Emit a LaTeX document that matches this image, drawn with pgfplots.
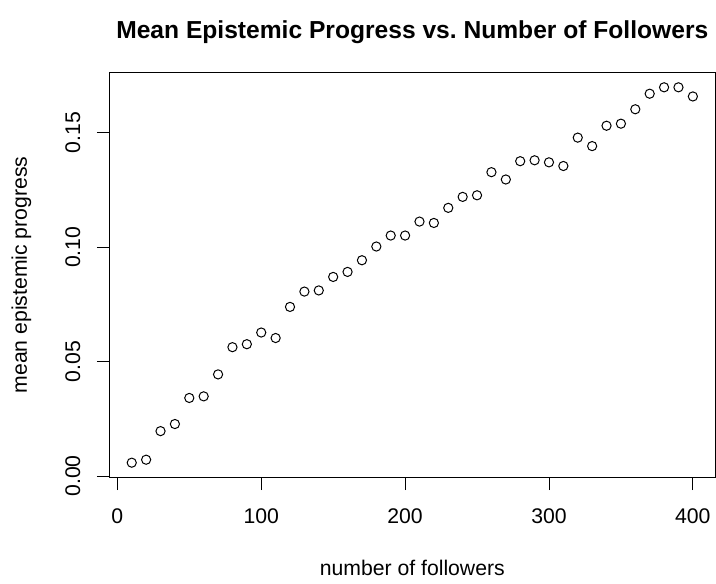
\documentclass[border=0pt]{standalone}
\usepackage{pgfplots}
\pgfplotsset{compat=1.18}
\usepackage{fontspec}
\setmainfont{Liberation Sans}

\begin{document}
\begin{tikzpicture}
\useasboundingbox (-109.3pt,-106.3pt) rectangle (606.7pt,477.7pt);
\begin{axis}[
  at={(0pt,0pt)}, anchor=south west,
  scale only axis,
  width=606pt, height=405.4pt,
  xmin=-5.6, xmax=415.6,
  ymin=-0.00076, ymax=0.17646,
  axis line style={line width=0.9pt},
  xtick={0,100,...,400},
  ytick={0,0.05,0.10,0.15},
  xtick pos=bottom, ytick pos=left,
  tick align=outside,
  major tick length=12.5pt,
  every tick/.style={line width=0.9pt, black},
  /pgf/number format/assume math mode=true,
  yticklabel style={/pgf/number format/fixed, /pgf/number format/fixed zerofill, /pgf/number format/precision=2, rotate=90, anchor=south},
  scaled y ticks=false,
  yticklabel shift={13pt},
  xticklabel shift={15pt},
  ticklabel style={font=\fontsize{21.2}{25}\selectfont},
  label style={font=\fontsize{21.2}{25}\selectfont},
  xlabel={number of followers},
  ylabel={mean epistemic progress},
  xlabel style={at={(axis description cs:0.5,-0.2227)}, anchor=center},
  ylabel style={at={(axis description cs:-0.145,0.5)}, anchor=center, rotate=0},
  title={Mean Epistemic Progress vs.\ Number of Followers},
  title style={at={(axis description cs:0.5,1.0846)}, anchor=center, font=\fontsize{24.6}{29}\selectfont\bfseries},
]
\addplot[only marks, mark=o, mark size=4.6pt, mark options={line width=1pt, black}]
coordinates {
(10,0.0058) (20,0.0071) (30,0.0196) (40,0.0227) (50,0.0341) (60,0.0348)
(70,0.0444) (80,0.0563) (90,0.0576) (100,0.0627) (110,0.0603) (120,0.0739)
(130,0.0806) (140,0.0811) (150,0.0870) (160,0.0892) (170,0.0943) (180,0.1003)
(190,0.1051) (200,0.1051) (210,0.1112) (220,0.1106) (230,0.1172) (240,0.1220)
(250,0.1227) (260,0.1328) (270,0.1296) (280,0.1376) (290,0.1380) (300,0.1371)
(310,0.1355) (320,0.1479) (330,0.1442) (340,0.1531) (350,0.1540) (360,0.1603)
(370,0.1671) (380,0.1699) (390,0.1699) (400,0.1659)
};
\end{axis}
\end{tikzpicture}
\end{document}
